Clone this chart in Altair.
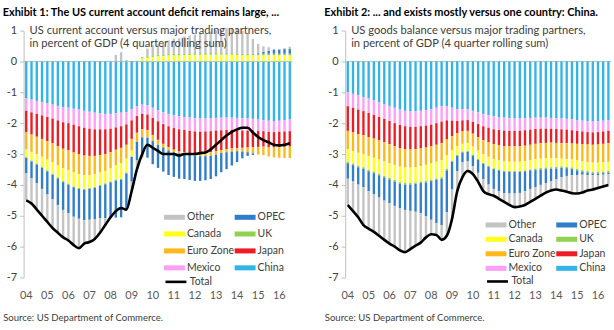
import altair as alt
import pandas as pd

FONT = "Lato"

years = ["04", "05", "06", "07", "08", "09", "10", "11", "12", "13", "14", "15", "16"]
quarters = [f"20{y}Q{q}" for y in years for q in (1, 2, 3, 4)][:51]
year_ticks = [f"20{y}Q1" for y in years]

stack_order = ["China", "Mexico", "Japan", "Euro Zone", "Canada", "UK", "OPEC", "Other"]
# legend fills column by column: left column first, then right column
legend_order = ["Other", "Canada", "Euro Zone", "Mexico", "OPEC", "UK", "Japan", "China"]
legend_colors = ["#C3C3C3", "#FFFF1A", "#FFB819", "#FF9EF5", "#2F7DCB", "#92D050", "#EE1C25", "#31B4E9"]

# ---------------- Exhibit 1: current account ----------------
china1 = [-1.2, -1.24, -1.28, -1.32, -1.36, -1.4, -1.44, -1.48, -1.5, -1.53, -1.56, -1.6,
          -1.63, -1.66, -1.68, -1.7, -1.7, -1.68, -1.66, -1.64, -1.55, -1.45, -1.4, -1.42,
          -1.5, -1.58, -1.65, -1.7, -1.75, -1.78, -1.8, -1.82, -1.84, -1.85, -1.85, -1.84,
          -1.83, -1.82, -1.82, -1.82, -1.83, -1.84, -1.85, -1.86, -1.88, -1.9, -1.92, -1.93,
          -1.92, -1.9, -1.88]
mexico1 = [-0.40, -0.41, -0.42, -0.43, -0.44, -0.45, -0.47, -0.49, -0.5, -0.52, -0.54, -0.55,
           -0.55, -0.54, -0.52, -0.5, -0.48, -0.46, -0.44, -0.4, -0.36, -0.32, -0.3, -0.3,
           -0.33, -0.36, -0.38, -0.4, -0.41, -0.42, -0.42, -0.43, -0.43, -0.43, -0.42, -0.42,
           -0.41, -0.41, -0.4, -0.4, -0.4, -0.4, -0.39, -0.38, -0.37, -0.36, -0.36, -0.36,
           -0.36, -0.37, -0.38]
japan1 = [-0.7, -0.72, -0.74, -0.76, -0.78, -0.8, -0.83, -0.86, -0.88, -0.9, -0.9, -0.9,
          -0.88, -0.86, -0.83, -0.8, -0.76, -0.72, -0.7, -0.66, -0.6, -0.54, -0.5, -0.5,
          -0.55, -0.6, -0.64, -0.68, -0.7, -0.72, -0.72, -0.72, -0.72, -0.71, -0.7, -0.68,
          -0.66, -0.64, -0.62, -0.6, -0.58, -0.56, -0.55, -0.54, -0.52, -0.5, -0.5, -0.5,
          -0.5, -0.5, -0.5]
euro1 = [-0.55, -0.56, -0.57, -0.58, -0.6, -0.61, -0.62, -0.63, -0.64, -0.65, -0.65, -0.64,
         -0.62, -0.6, -0.57, -0.55, -0.53, -0.51, -0.5, -0.45, -0.38, -0.3, -0.26, -0.25,
         -0.2, -0.16, -0.12, -0.1, -0.08, -0.06, -0.05, -0.05, -0.06, -0.08, -0.1, -0.12,
         -0.12, -0.1, -0.1, -0.1, -0.1, -0.12, -0.15, -0.2, -0.25, -0.28, -0.3, -0.32,
         -0.34, -0.36, -0.37]
canada1 = [-0.25, -0.28, -0.3, -0.33, -0.35, -0.38, -0.4, -0.42, -0.44, -0.45, -0.45, -0.44,
           -0.42, -0.41, -0.4, -0.4, -0.42, -0.46, -0.5, -0.45, -0.2, 0.0, 0.1, 0.12,
           0.15, 0.17, 0.18, 0.2, 0.2, 0.2, 0.21, 0.21, 0.22, 0.22, 0.22, 0.22,
           0.22, 0.22, 0.22, 0.22, 0.21, 0.2, 0.2, 0.2, 0.2, 0.2, 0.2, 0.2,
           0.2, 0.2, 0.2]
uk1 = [-0.03, -0.03, -0.03, -0.03, -0.03, -0.03, -0.03, -0.03, -0.03, -0.03, -0.03, -0.03,
       -0.03, -0.03, -0.03, -0.03, -0.03, -0.03, -0.03, -0.03, 0.0, 0.02, 0.04, 0.05,
       0.05, 0.05, 0.05, 0.05, 0.05, 0.05, 0.05, 0.05, 0.05, 0.05, 0.05, 0.05,
       0.05, 0.05, 0.05, 0.05, 0.05, 0.05, 0.05, 0.05, 0.05, 0.05, 0.05, 0.05,
       0.05, 0.05, 0.05]
opec1 = [-0.5, -0.55, -0.6, -0.68, -0.75, -0.8, -0.86, -0.9, -0.93, -0.95, -0.97, -0.98,
         -1.0, -1.02, -1.05, -1.1, -1.15, -1.2, -1.22, -1.15, -0.8, -0.6, -0.6, -0.65,
         -0.75, -0.75, -0.78, -0.8, -0.8, -0.82, -0.82, -0.82, -0.82, -0.8, -0.78, -0.75,
         -0.7, -0.62, -0.55, -0.45, -0.35, -0.22, -0.12, -0.05, 0.02, 0.06, 0.1, 0.12,
         0.14, 0.15, 0.15]
other1 = [-0.87, -0.81, -0.86, -0.87, -0.89, -0.93, -0.9, -0.89, -0.88, -0.92, -0.95, -0.76,
          -0.72, -0.63, -0.47, -0.22, 0.02, 0.21, 0.3, 0.05, -0.31, -0.31, -0.08, 0.25,
          0.33, 0.33, 0.34, 0.43, 0.49, 0.5, 0.55, 0.58, 0.6, 0.63, 0.63, 0.69,
          0.75, 0.77, 0.82, 0.82, 0.8, 0.74, 0.66, 0.48, 0.3, 0.18, 0.11, 0.04,
          0.01, 0.03, 0.08]
total1 = [-4.5, -4.6, -4.8, -5.0, -5.2, -5.4, -5.55, -5.7, -5.8, -5.95, -6.05, -5.9,
          -5.85, -5.75, -5.55, -5.3, -5.05, -4.85, -4.75, -4.8, -4.2, -3.5, -3.0, -2.7,
          -2.8, -2.9, -3.0, -3.0, -3.0, -3.05, -3.0, -3.0, -3.0, -2.97, -2.95, -2.85,
          -2.7, -2.55, -2.4, -2.28, -2.2, -2.15, -2.15, -2.3, -2.45, -2.55, -2.62, -2.7,
          -2.72, -2.7, -2.65]

# ---------------- Exhibit 2: goods balance ----------------
china2 = [-1.0, -1.05, -1.1, -1.15, -1.2, -1.26, -1.32, -1.38, -1.44, -1.5, -1.56, -1.6,
          -1.62, -1.62, -1.6, -1.58, -1.55, -1.5, -1.45, -1.45, -1.5, -1.55, -1.55, -1.55,
          -1.6, -1.65, -1.7, -1.74, -1.78, -1.8, -1.82, -1.84, -1.85, -1.85, -1.84, -1.83,
          -1.82, -1.82, -1.82, -1.83, -1.84, -1.85, -1.86, -1.88, -1.9, -1.92, -1.94, -1.95,
          -1.94, -1.92, -1.9]
mexico2 = [-0.45, -0.45, -0.46, -0.46, -0.47, -0.47, -0.48, -0.48, -0.49, -0.5, -0.5, -0.5,
           -0.5, -0.5, -0.5, -0.5, -0.5, -0.5, -0.5, -0.46, -0.42, -0.38, -0.36, -0.35,
           -0.36, -0.38, -0.4, -0.41, -0.42, -0.42, -0.42, -0.41, -0.4, -0.4, -0.39, -0.38,
           -0.37, -0.36, -0.36, -0.35, -0.35, -0.35, -0.35, -0.35, -0.35, -0.35, -0.35, -0.35,
           -0.35, -0.35, -0.35]
japan2 = [-0.8, -0.8, -0.79, -0.78, -0.78, -0.77, -0.76, -0.76, -0.75, -0.75, -0.75, -0.74,
          -0.73, -0.72, -0.72, -0.71, -0.7, -0.7, -0.7, -0.62, -0.5, -0.4, -0.36, -0.35,
          -0.38, -0.42, -0.45, -0.47, -0.48, -0.49, -0.5, -0.5, -0.5, -0.5, -0.5, -0.49,
          -0.48, -0.47, -0.46, -0.45, -0.45, -0.45, -0.44, -0.43, -0.42, -0.41, -0.4, -0.4,
          -0.4, -0.4, -0.4]
euro2 = [-0.6, -0.6, -0.61, -0.61, -0.62, -0.62, -0.62, -0.62, -0.61, -0.6, -0.6, -0.6,
         -0.59, -0.58, -0.57, -0.56, -0.55, -0.55, -0.55, -0.5, -0.45, -0.42, -0.4, -0.4,
         -0.42, -0.44, -0.46, -0.47, -0.48, -0.49, -0.5, -0.5, -0.5, -0.5, -0.5, -0.5,
         -0.5, -0.5, -0.5, -0.5, -0.5, -0.5, -0.51, -0.52, -0.54, -0.56, -0.57, -0.58,
         -0.59, -0.6, -0.6]
canada2 = [-0.4, -0.41, -0.42, -0.43, -0.44, -0.45, -0.46, -0.47, -0.48, -0.49, -0.5, -0.5,
           -0.5, -0.5, -0.5, -0.52, -0.53, -0.54, -0.55, -0.45, -0.35, -0.28, -0.25, -0.25,
           -0.26, -0.27, -0.28, -0.29, -0.3, -0.3, -0.3, -0.3, -0.3, -0.3, -0.3, -0.3,
           -0.3, -0.3, -0.3, -0.3, -0.28, -0.25, -0.25, -0.26, -0.27, -0.28, -0.29, -0.3,
           -0.3, -0.3, -0.3]
uk2 = [-0.05, -0.05, -0.05, -0.05, -0.05, -0.05, -0.05, -0.05, -0.05, -0.05, -0.05, -0.05,
       -0.05, -0.05, -0.05, -0.05, -0.05, -0.05, -0.05, -0.05, -0.03, -0.03, -0.03, -0.03,
       -0.03, -0.03, -0.03, -0.03, -0.03, -0.03, -0.03, -0.03, -0.03, -0.03, -0.03, -0.03,
       -0.05, -0.05, -0.05, -0.05, -0.05, -0.05, -0.05, -0.05, -0.05, -0.05, -0.05, -0.05,
       -0.05, -0.05, -0.05]
opec2 = [-0.5, -0.53, -0.56, -0.6, -0.64, -0.68, -0.72, -0.75, -0.77, -0.79, -0.8, -0.82,
         -0.85, -0.9, -0.98, -1.1, -1.25, -1.4, -1.5, -1.35, -0.9, -0.5, -0.32, -0.3,
         -0.35, -0.42, -0.5, -0.58, -0.64, -0.68, -0.7, -0.7, -0.7, -0.68, -0.64, -0.6,
         -0.55, -0.5, -0.45, -0.4, -0.35, -0.3, -0.25, -0.2, -0.15, -0.1, -0.08, -0.06,
         -0.05, -0.05, -0.05]
other2 = [-0.85, -0.96, -1.06, -1.22, -1.22, -1.22, -1.24, -1.27, -1.31, -1.32, -1.36, -1.37,
          -1.24, -1.1, -0.95, -0.68, -0.47, -0.38, -0.48, -0.77, -0.95, -0.64, -0.48, -0.32,
          -0.25, -0.29, -0.38, -0.31, -0.22, -0.24, -0.28, -0.37, -0.44, -0.44, -0.45, -0.42,
          -0.38, -0.35, -0.31, -0.3, -0.33, -0.43, -0.51, -0.58, -0.6, -0.58, -0.5, -0.46,
          -0.42, -0.38, -0.35]
total2 = [-4.65, -4.85, -5.05, -5.3, -5.42, -5.52, -5.65, -5.78, -5.9, -6.0, -6.12, -6.18,
          -6.08, -5.97, -5.87, -5.7, -5.6, -5.62, -5.78, -5.65, -5.1, -4.2, -3.75, -3.55,
          -3.65, -3.9, -4.2, -4.3, -4.35, -4.45, -4.55, -4.65, -4.72, -4.7, -4.65, -4.55,
          -4.45, -4.35, -4.25, -4.18, -4.15, -4.18, -4.22, -4.27, -4.28, -4.25, -4.18, -4.15,
          -4.1, -4.05, -4.0]

title1 = "Exhibit 1: The US current account deficit remains large, ..."
title2 = "Exhibit 2: ... and exists mostly versus one country: China."
sub1 = ["US current account versus major trading partners,",
        "in percent of GDP (4 quarter rolling sum)"]
sub2 = ["US goods balance versus major trading partners,",
        "in percent of GDP (4 quarter rolling sum)"]
source = "Source: US Department of Commerce."

BAR_SHAPE = "M-1.5,-0.36H1.5V0.36H-1.5Z"


def long_df(series_map):
    rows = []
    for k, name in enumerate(stack_order):
        for q, v in zip(quarters, series_map[name]):
            rows.append({"q": q, "series": name, "ord": k, "value": v})
    return pd.DataFrame(rows)


def panel(series_map, total, title, sub, width, leg_y, row_pad, tot_y):
    bars_df = long_df(series_map)
    line_df = pd.DataFrame({"q": quarters, "total": total, "name": ["Total"] * len(quarters)})

    xenc = alt.X(
        "q:O",
        scale=alt.Scale(domain=quarters, paddingInner=0.55, paddingOuter=0.275),
        axis=alt.Axis(
            values=year_ticks, labelExpr="substring(datum.value, 2, 4)",
            ticks=False, domain=False, labelAngle=0, labelPadding=12.5,
            labelFont=FONT, labelFontSize=11, labelColor="#595959",
            title=source, titleFont=FONT, titleFontSize=9.6, titleFontWeight="normal",
            titleColor="#404040", titleAnchor="start", titleAlign="left",
            titleX=-21, titleY=40.5, titleBaseline="middle",
        ),
    )
    yscale = alt.Scale(domain=[-7, 1], nice=False, zero=False)
    yaxis = alt.Axis(
        values=list(range(-7, 2)), labelExpr="'' + datum.value", tickSize=4, labelPadding=3,
        domainColor="#BFBFBF", tickColor="#BFBFBF", grid=False, title=None,
        labelFont=FONT, labelFontSize=11, labelColor="#404040",
    )

    zero = alt.Chart(pd.DataFrame({"z": [0]})).mark_rule(color="#BFBFBF", strokeWidth=1).encode(
        y=alt.Y("z:Q", scale=yscale, axis=yaxis)
    )

    bars = alt.Chart(bars_df).mark_bar().encode(
        x=xenc,
        y=alt.Y("value:Q", stack="zero", scale=yscale, axis=yaxis),
        fill=alt.Fill(
            "series:N",
            scale=alt.Scale(domain=legend_order, range=legend_colors),
            legend=alt.Legend(
                title=None, orient="none", legendX=144.5, legendY=leg_y, columns=2,
                gridAlign="each",
                symbolType=BAR_SHAPE, symbolSize=196, symbolStrokeWidth=0,
                labelOffset=5.5, rowPadding=row_pad, columnPadding=0,
                labelFont=FONT, labelFontSize=10.5, labelColor="#404040", padding=0,
            ),
        ),
        order=alt.Order("ord:Q", sort="ascending"),
    )

    line = alt.Chart(line_df).mark_line(strokeWidth=2.6, interpolate="monotone").encode(
        x=xenc,
        y=alt.Y("total:Q", scale=yscale, axis=yaxis),
        stroke=alt.Stroke(
            "name:N",
            scale=alt.Scale(domain=["Total"], range=["#000000"]),
            legend=alt.Legend(
                title=None, orient="none", legendX=141, legendY=tot_y,
                symbolType="stroke", symbolSize=441, symbolStrokeWidth=2.6,
                labelOffset=2, labelFont=FONT, labelFontSize=10.5, labelColor="#404040",
                padding=0,
            ),
        ),
    )

    t1 = alt.Chart(pd.DataFrame({"t": [sub[0]]})).mark_text(
        align="left", baseline="middle", font=FONT, fontSize=11.2, color="#404040"
    ).encode(text="t:N", x=alt.value(6), y=alt.value(0))
    t2 = alt.Chart(pd.DataFrame({"t": [sub[1]]})).mark_text(
        align="left", baseline="middle", font=FONT, fontSize=11.2, color="#404040"
    ).encode(text="t:N", x=alt.value(6), y=alt.value(13.5))

    return alt.layer(zero, bars, line, t1, t2).properties(
        width=width, height=248,
        title=alt.TitleParams(
            title, anchor="start", frame="bounds", font=FONT, fontSize=11,
            fontWeight="bold", color="#000000", offset=6.7, dx=0,
        ),
    )


p1 = panel(
    {"China": china1, "Mexico": mexico1, "Japan": japan1, "Euro Zone": euro1,
     "Canada": canada1, "UK": uk1, "OPEC": opec1, "Other": other1},
    total1, title1, sub1, 270, 180.3, 4.0, 240.4,
)
p2 = panel(
    {"China": china2, "Mexico": mexico2, "Japan": japan2, "Euro Zone": euro2,
     "Canada": canada2, "UK": uk2, "OPEC": opec2, "Other": other2},
    total2, title2, sub2, 267, 188, 1.6, 240,
)

chart = (
    alt.hconcat(p1, p2, spacing=53, bounds="flush")
    .resolve_scale(fill="independent", stroke="independent")
    .configure_view(stroke=None)
    .properties(padding={"left": 2.7, "top": 6, "right": 0, "bottom": 0}, background="white")
)

chart.save("out.html", embed_options={"renderer": "svg", "actions": False})
